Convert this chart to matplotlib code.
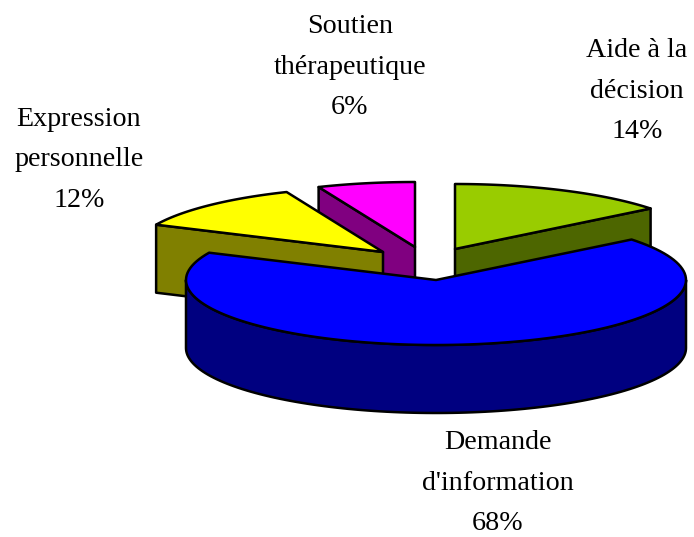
import matplotlib
matplotlib.use('Agg')
import matplotlib.pyplot as plt
import numpy as np
from matplotlib.patches import Polygon

plt.rcParams['font.family'] = ['Liberation Serif', 'DejaVu Serif']

labels = ['Aide à la\ndécision', "Demande\nd'information", 'Expression\npersonnelle', 'Soutien\nthérapeutique']
valeurs = [14.3, 67.6, 11.8, 6.3]
couleurs = ['#99CC00', '#0000FF', '#FFFF00', '#FF00FF']
sombres = ['#4D6600', '#000080', '#808000', '#800080']

# apex of each exploded slice, in pixels
apex = [(455, 249), (436, 280), (383, 252), (415, 247)]
label_pos = [(637, 91), (498, 483), (79, 160), (350, 67)]
rx, ry, prof = 250, 65, 68
lw = 1.8

fig = plt.figure(figsize=(6.94, 5.37), dpi=100)
ax = fig.add_axes([0, 0, 1, 1])
ax.set_xlim(0, 694)
ax.set_ylim(537, 0)
ax.axis('off')

bornes = np.cumsum([0] + valeurs) * 3.6


def bord(i, a):
    t = np.radians(a)
    return apex[i][0] + rx * np.sin(t), apex[i][1] - ry * np.cos(t)


def poly(pts, c, z):
    ax.add_patch(Polygon(pts, closed=True, fc=c, ec='black', lw=lw, joinstyle='round', zorder=z))


def part(i, z):
    a0, a1 = bornes[i], bornes[i + 1]
    cx, cy = apex[i]
    angles = np.linspace(a0, a1, 120)
    arc = [bord(i, a) for a in angles]

    # cut faces seen from the front
    if i == 0:
        x, y = bord(i, a1)
        poly([(cx, cy), (x, y), (x, y + prof), (cx, cy + prof)], sombres[i], z)
    if i in (2, 3):
        x, y = bord(i, a0)
        poly([(cx, cy), (x, y), (x, y + prof), (cx, cy + prof)], sombres[i], z)

    # outer wall, only the front half shows
    lo, hi = max(a0, 90), min(a1, 270)
    if hi > lo:
        devant = [bord(i, a) for a in np.linspace(lo, hi, 120)]
        bas = [(x, y + prof) for x, y in devant[::-1]]
        poly(devant + bas, sombres[i], z)

    poly([(cx, cy)] + arc, couleurs[i], z + 0.5)


for z, i in enumerate([3, 0, 2, 1]):
    part(i, z + 1)

for lab, v, (x, y) in zip(labels, valeurs, label_pos):
    ax.text(x, y, f'{lab}\n{v:.0f}%', ha='center', va='center', fontsize=20.2,
            linespacing=1.8, color='black', zorder=10)

fig.savefig('out.png', dpi=100)
